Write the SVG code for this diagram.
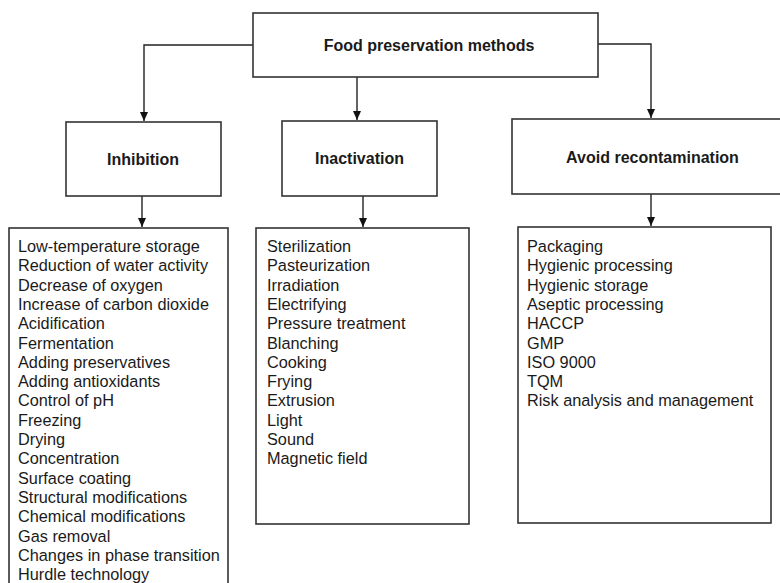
<svg xmlns="http://www.w3.org/2000/svg" width="780" height="583" viewBox="0 0 780 583">
<style>
.box{fill:#fff;stroke:#333;stroke-width:1.6}
.conn{fill:none;stroke:#222;stroke-width:1.4}
.title{font-family:"Liberation Sans",Arial,sans-serif;font-weight:bold;font-size:16px;fill:#1a1a1a;text-anchor:middle}
.item{font-family:"Liberation Sans",Arial,sans-serif;font-size:16.3px;fill:#1a1a1a}
</style>
<defs>
<marker id="arr" markerWidth="10" markerHeight="10" refX="9" refY="4" orient="auto" markerUnits="userSpaceOnUse">
<path d="M0,0 L9,4 L0,8 Z" fill="#111"/>
</marker>
</defs>
<rect width="780" height="583" fill="#fff"/>
<g id="connectors">
<path class="conn" d="M253,45 H144 V121" marker-end="url(#arr)"/>
<path class="conn" d="M357,77 V120" marker-end="url(#arr)"/>
<path class="conn" d="M598,44 H651 V118" marker-end="url(#arr)"/>
<path class="conn" d="M142,196 V227" marker-end="url(#arr)"/>
<path class="conn" d="M363,196 V227" marker-end="url(#arr)"/>
<path class="conn" d="M651,194 V226" marker-end="url(#arr)"/>
</g>
<g id="root">
<rect class="box" x="253" y="13" width="345" height="64"/>
<text class="title" x="429" y="51">Food preservation methods</text>
</g>
<g id="inhibition">
<rect class="box" x="66" y="122" width="155" height="74"/>
<text class="title" x="143" y="165">Inhibition</text>
</g>
<g id="inactivation">
<rect class="box" x="282" y="121" width="155" height="75"/>
<text class="title" x="359.5" y="164">Inactivation</text>
</g>
<g id="avoid">
<rect class="box" x="512" y="119" width="280" height="75"/>
<text class="title" x="652.5" y="163">Avoid recontamination</text>
</g>
<g id="inhibition-list">
<rect class="box" x="9" y="228" width="219" height="370"/>
<text class="item" x="18" y="252">Low-temperature storage</text>
<text class="item" x="18" y="271.3">Reduction of water activity</text>
<text class="item" x="18" y="290.6">Decrease of oxygen</text>
<text class="item" x="18" y="309.9">Increase of carbon dioxide</text>
<text class="item" x="18" y="329.2">Acidification</text>
<text class="item" x="18" y="348.5">Fermentation</text>
<text class="item" x="18" y="367.8">Adding preservatives</text>
<text class="item" x="18" y="387.1">Adding antioxidants</text>
<text class="item" x="18" y="406.4">Control of pH</text>
<text class="item" x="18" y="425.7">Freezing</text>
<text class="item" x="18" y="445">Drying</text>
<text class="item" x="18" y="464.3">Concentration</text>
<text class="item" x="18" y="483.6">Surface coating</text>
<text class="item" x="18" y="502.9">Structural modifications</text>
<text class="item" x="18" y="522.2">Chemical modifications</text>
<text class="item" x="18" y="541.5">Gas removal</text>
<text class="item" x="18" y="560.8">Changes in phase transition</text>
<text class="item" x="18" y="580.1">Hurdle technology</text>
</g>
<g id="inactivation-list">
<rect class="box" x="256" y="228" width="213" height="296"/>
<text class="item" x="267" y="252">Sterilization</text>
<text class="item" x="267" y="271.3">Pasteurization</text>
<text class="item" x="267" y="290.6">Irradiation</text>
<text class="item" x="267" y="309.9">Electrifying</text>
<text class="item" x="267" y="329.2">Pressure treatment</text>
<text class="item" x="267" y="348.5">Blanching</text>
<text class="item" x="267" y="367.8">Cooking</text>
<text class="item" x="267" y="387.1">Frying</text>
<text class="item" x="267" y="406.4">Extrusion</text>
<text class="item" x="267" y="425.7">Light</text>
<text class="item" x="267" y="445">Sound</text>
<text class="item" x="267" y="464.3">Magnetic field</text>
</g>
<g id="avoid-list">
<rect class="box" x="518" y="227" width="253" height="296"/>
<text class="item" x="527" y="252">Packaging</text>
<text class="item" x="527" y="271.3">Hygienic processing</text>
<text class="item" x="527" y="290.6">Hygienic storage</text>
<text class="item" x="527" y="309.9">Aseptic processing</text>
<text class="item" x="527" y="329.2">HACCP</text>
<text class="item" x="527" y="348.5">GMP</text>
<text class="item" x="527" y="367.8">ISO 9000</text>
<text class="item" x="527" y="387.1">TQM</text>
<text class="item" x="527" y="406.4">Risk analysis and management</text>
</g>
</svg>
